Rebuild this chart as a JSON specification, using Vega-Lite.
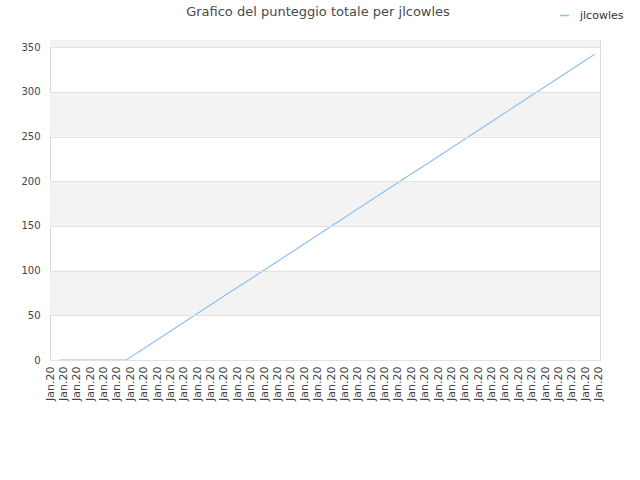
{
  "$schema": "https://vega.github.io/schema/vega-lite/v6.json",
  "width": 550,
  "height": 320,
  "autosize": {"type": "none"},
  "padding": {"left": 50, "top": 40, "right": 40, "bottom": 120},
  "background": "white",
  "title": {
    "text": "Grafico del punteggio totale per jlcowles",
    "fontSize": 13,
    "fontWeight": "normal",
    "color": "#4a4a4a",
    "anchor": "middle",
    "frame": "group",
    "dx": -7,
    "offset": -9
  },
  "datasets": {
    "fasce": [
      {"da": 50, "a": 100},
      {"da": 150, "a": 200},
      {"da": 250, "a": 300},
      {"da": 350, "a": 358}
    ],
    "punteggi": [
      {"giorno": 0, "punteggio": 0, "utente": "jlcowles"},
      {"giorno": 1, "punteggio": 0, "utente": "jlcowles"},
      {"giorno": 2, "punteggio": 0, "utente": "jlcowles"},
      {"giorno": 3, "punteggio": 0, "utente": "jlcowles"},
      {"giorno": 4, "punteggio": 0, "utente": "jlcowles"},
      {"giorno": 5, "punteggio": 0, "utente": "jlcowles"},
      {"giorno": 6, "punteggio": 9.8, "utente": "jlcowles"},
      {"giorno": 7, "punteggio": 19.5, "utente": "jlcowles"},
      {"giorno": 8, "punteggio": 29.3, "utente": "jlcowles"},
      {"giorno": 9, "punteggio": 39.1, "utente": "jlcowles"},
      {"giorno": 10, "punteggio": 48.9, "utente": "jlcowles"},
      {"giorno": 11, "punteggio": 58.6, "utente": "jlcowles"},
      {"giorno": 12, "punteggio": 68.4, "utente": "jlcowles"},
      {"giorno": 13, "punteggio": 78.2, "utente": "jlcowles"},
      {"giorno": 14, "punteggio": 87.9, "utente": "jlcowles"},
      {"giorno": 15, "punteggio": 97.7, "utente": "jlcowles"},
      {"giorno": 16, "punteggio": 107.5, "utente": "jlcowles"},
      {"giorno": 17, "punteggio": 117.2, "utente": "jlcowles"},
      {"giorno": 18, "punteggio": 127.0, "utente": "jlcowles"},
      {"giorno": 19, "punteggio": 136.8, "utente": "jlcowles"},
      {"giorno": 20, "punteggio": 146.6, "utente": "jlcowles"},
      {"giorno": 21, "punteggio": 156.3, "utente": "jlcowles"},
      {"giorno": 22, "punteggio": 166.1, "utente": "jlcowles"},
      {"giorno": 23, "punteggio": 175.9, "utente": "jlcowles"},
      {"giorno": 24, "punteggio": 185.6, "utente": "jlcowles"},
      {"giorno": 25, "punteggio": 195.4, "utente": "jlcowles"},
      {"giorno": 26, "punteggio": 205.2, "utente": "jlcowles"},
      {"giorno": 27, "punteggio": 214.9, "utente": "jlcowles"},
      {"giorno": 28, "punteggio": 224.7, "utente": "jlcowles"},
      {"giorno": 29, "punteggio": 234.5, "utente": "jlcowles"},
      {"giorno": 30, "punteggio": 244.3, "utente": "jlcowles"},
      {"giorno": 31, "punteggio": 254.0, "utente": "jlcowles"},
      {"giorno": 32, "punteggio": 263.8, "utente": "jlcowles"},
      {"giorno": 33, "punteggio": 273.6, "utente": "jlcowles"},
      {"giorno": 34, "punteggio": 283.3, "utente": "jlcowles"},
      {"giorno": 35, "punteggio": 293.1, "utente": "jlcowles"},
      {"giorno": 36, "punteggio": 302.9, "utente": "jlcowles"},
      {"giorno": 37, "punteggio": 312.6, "utente": "jlcowles"},
      {"giorno": 38, "punteggio": 322.4, "utente": "jlcowles"},
      {"giorno": 39, "punteggio": 332.2, "utente": "jlcowles"},
      {"giorno": 40, "punteggio": 342.0, "utente": "jlcowles"}
    ]
  },
  "layer": [
    {
      "data": {"name": "fasce"},
      "mark": {"type": "rect", "color": "#f3f3f3"},
      "encoding": {
        "y": {"field": "da", "type": "quantitative"},
        "y2": {"field": "a"}
      }
    },
    {
      "data": {"name": "punteggi"},
      "mark": {"type": "line", "strokeWidth": 1.2},
      "encoding": {
        "x": {
          "field": "giorno",
          "type": "quantitative",
          "scale": {"domain": [-0.7, 40.4], "nice": false, "zero": false},
          "axis": {
            "title": null,
            "values": [-0.7, 0.3, 1.3, 2.3, 3.3, 4.3, 5.3, 6.3, 7.3, 8.3, 9.3, 10.3, 11.3, 12.3, 13.3, 14.3, 15.3, 16.3, 17.3, 18.3, 19.3, 20.3, 21.3, 22.3, 23.3, 24.3, 25.3, 26.3, 27.3, 28.3, 29.3, 30.3, 31.3, 32.3, 33.3, 34.3, 35.3, 36.3, 37.3, 38.3, 39.3, 40.3],
            "labelExpr": "'Jan.20'",
            "labelAngle": 270,
            "labelOverlap": false,
            "labelBound": false,
            "labelFlush": false,
            "ticks": false,
            "domain": false,
            "grid": false,
            "labelFontSize": 11,
            "labelPadding": 6,
            "labelColor": "#444444"
          }
        },
        "y": {
          "field": "punteggio",
          "type": "quantitative",
          "scale": {"domain": [0, 358], "nice": false},
          "axis": {
            "title": null,
            "values": [0, 50, 100, 150, 200, 250, 300, 350],
            "grid": true,
            "gridColor": "#e2e2e2",
            "zindex": 1,
            "ticks": false,
            "domain": false,
            "labelPadding": 10,
            "labelFontSize": 10,
            "labelColor": "#444444"
          }
        },
        "color": {
          "field": "utente",
          "type": "nominal",
          "scale": {"range": ["#8ec0f2"]},
          "legend": {
            "orient": "none",
            "legendX": 509,
            "legendY": -30,
            "title": null,
            "symbolType": "stroke",
            "symbolSize": 80,
            "symbolStrokeWidth": 1.5,
            "labelOffset": 10,
            "labelFontSize": 11,
            "labelColor": "#333333"
          }
        }
      }
    }
  ],
  "config": {
    "font": "DejaVu Sans",
    "view": {"stroke": "#d9d9d9"}
  }
}
